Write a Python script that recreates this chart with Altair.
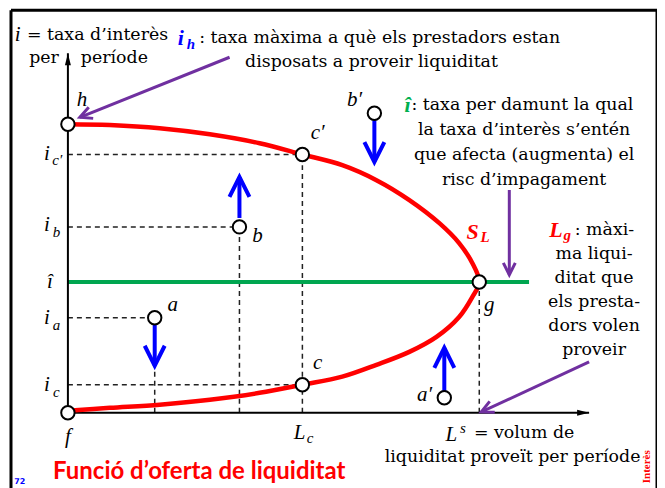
import math
import altair as alt
import pandas as pd

# ---------------- data (L = liquidity per period, i = interest rate) ----------------
# supply curve S_L, read from h round the nose g back to f
curve_L = [0.00, 1.02, 2.23, 3.45, 4.66, 5.70, 6.67, 7.50, 8.30, 9.03, 9.51, 9.83, 10.00,
           9.83, 9.51, 8.96, 8.30, 7.50, 6.67, 5.70, 4.66, 3.45, 2.23, 1.02, 0.00]
curve_i = [10.00, 9.97, 9.86, 9.65, 9.34, 8.95, 8.58, 8.06, 7.37, 6.57, 5.88, 5.19, 4.53,
           4.01, 3.32, 2.63, 2.11, 1.66, 1.25, 0.97, 0.69, 0.45, 0.28, 0.17, 0.07]

point_names = ["h", "c′", "b", "a", "c", "f", "g", "a′", "b′"]
point_L = [0.00, 5.70, 4.17, 2.11, 5.70, 0.00, 10.00, 9.15, 7.45]
point_i = [10.00, 8.95, 6.44, 3.29, 0.97, 0.00, 4.53, 0.52, 10.38]

i_hat = 4.53
i_hat_L = [0.00, 11.21]

# dashed guides
guide_L = [0, 0, 0, 0, 2.11, 4.17, 5.70, 10.00]
guide_L2 = [5.70, 4.17, 2.11, 5.70, 2.11, 4.17, 5.70, 10.00]
guide_i = [8.95, 6.44, 3.29, 0.97, 0, 0, 0, 0]
guide_i2 = [8.95, 6.44, 3.29, 0.97, 1.63, 6.44, 8.95, 4.53]

# blue adjustment arrows
arrow_L = [7.45, 4.17, 2.11, 9.15]
arrow_from = [10.14, 6.75, 3.04, 0.73]
arrow_to = [8.69, 8.17, 1.63, 2.25]

# purple pointer arrows
ptr_L = [3.93, 10.73, 12.67]
ptr_i = [12.32, 7.72, 1.76]
ptr_L2 = [0.29, 10.73, 10.05]
ptr_i2 = [10.24, 4.78, 0.03]

# axes extent
axis_L_max = 12.67
axis_i_max = 12.46

# ---------------- layout ----------------
W, H = 647, 470
PX_L, PX_I = 41.2, 28.9          # pixels per unit
X0, Y0 = 57, 403                 # pixel position of origin inside the plot
xs = alt.Scale(domain=[-X0 / PX_L, (W - X0) / PX_L], nice=False, zero=False)
ys = alt.Scale(domain=[(Y0 - H) / PX_I, Y0 / PX_I], nice=False, zero=False)
X = alt.X("L:Q", scale=xs, axis=None)
Y = alt.Y("i:Q", scale=ys, axis=None)

SERIF = "Liberation Serif"
ROMAN = "DejaVu Serif"
RED, BLUE, GREEN, PURPLE = "#ff0000", "#0000ff", "#00a650", "#7030a0"
CHEVRON = "M -1 2 L 0 0 L 1 2"
TRI = "M 0 0 L -0.5 2 L 0.5 2 Z"

layers = []

# frame
dummy = pd.DataFrame({"d": [0]})
for enc in [dict(x=alt.value(0), y=alt.value(0), y2=alt.value(480)),
            dict(x=alt.value(W), y=alt.value(0), y2=alt.value(480)),
            dict(x=alt.value(0), x2=alt.value(W), y=alt.value(0))]:
    layers.append(alt.Chart(dummy).mark_rule(color="black", strokeWidth=3).encode(**enc))

# dashed guides
gdf = pd.DataFrame({"L": guide_L, "L2": guide_L2, "i": guide_i, "i2": guide_i2})
layers.append(alt.Chart(gdf).mark_rule(color="#222", strokeWidth=1.5, strokeDash=[5, 4]).encode(
    x=X, x2="L2:Q", y=Y, y2="i2:Q"))

# green i-hat line
hdf = pd.DataFrame({"L": [i_hat_L[0]], "L2": [i_hat_L[1]], "i": [i_hat]})
layers.append(alt.Chart(hdf).mark_rule(color=GREEN, strokeWidth=4).encode(x=X, x2="L2:Q", y=Y))

# axes
adf = pd.DataFrame({"L": [0, 0], "L2": [axis_L_max, 0], "i": [0, 0], "i2": [0, axis_i_max]})
layers.append(alt.Chart(adf).mark_rule(color="black", strokeWidth=2).encode(x=X, x2="L2:Q", y=Y, y2="i2:Q"))
tdf = pd.DataFrame({"L": [axis_L_max, 0], "i": [0, axis_i_max], "ang": [90, 0]})
layers.append(alt.Chart(tdf).mark_point(shape=TRI, filled=True, color="black", size=144, opacity=1).encode(
    x=X, y=Y, angle=alt.Angle("ang:Q", scale=None)))

# supply curve
cdf = pd.DataFrame({"L": curve_L, "i": curve_i, "o": list(range(len(curve_L)))})
layers.append(alt.Chart(cdf).mark_line(color=RED, strokeWidth=4.5, interpolate="catmull-rom").encode(
    x=X, y=Y, order="o:Q"))

# blue arrows
bdf = pd.DataFrame({"L": arrow_L, "i": arrow_from, "i2": arrow_to,
                    "ang": [0 if t > f else 180 for f, t in zip(arrow_from, arrow_to)]})
layers.append(alt.Chart(bdf).mark_rule(color=BLUE, strokeWidth=4).encode(x=X, y=Y, y2="i2:Q"))
bhead = bdf.assign(i=bdf["i2"])
layers.append(alt.Chart(bhead).mark_point(shape=CHEVRON, filled=False, color=BLUE, strokeWidth=4,
                                          size=400, opacity=1).encode(
    x=X, y=Y, angle=alt.Angle("ang:Q", scale=None)))

# purple pointers
pang = []
for a, b, c, d in zip(ptr_L, ptr_i, ptr_L2, ptr_i2):
    dx, dy = (c - a) * PX_L, -(d - b) * PX_I
    pang.append(math.degrees(math.atan2(dx, -dy)) % 360)
pdf = pd.DataFrame({"L": ptr_L, "i": ptr_i, "L2": ptr_L2, "i2": ptr_i2, "ang": pang})
layers.append(alt.Chart(pdf).mark_rule(color=PURPLE, strokeWidth=3).encode(x=X, y=Y, x2="L2:Q", y2="i2:Q"))
phead = pd.DataFrame({"L": ptr_L2, "i": ptr_i2, "ang": pang})
layers.append(alt.Chart(phead).mark_point(shape=CHEVRON, filled=False, color=PURPLE, strokeWidth=3,
                                          size=144, opacity=1).encode(
    x=X, y=Y, angle=alt.Angle("ang:Q", scale=None)))

# points
pts = pd.DataFrame({"L": point_L, "i": point_i, "name": point_names})
layers.append(alt.Chart(pts).mark_point(shape="circle", filled=True, fill="white", stroke="black",
                                        strokeWidth=2, size=180, opacity=1).encode(x=X, y=Y))

# ---------------- text ----------------
STYLES = {
    "rm": dict(font=ROMAN, fontSize=17.4, color="black"),
    "it": dict(font=SERIF, fontSize=21, fontStyle="italic", color="black"),
    "sub": dict(font=SERIF, fontSize=15, fontStyle="italic", color="black"),
    "sup": dict(font=SERIF, fontSize=15, fontStyle="italic", color="black"),
    "blue_b": dict(font=SERIF, fontSize=22, fontStyle="italic", fontWeight="bold", color=BLUE),
    "blue_bs": dict(font=SERIF, fontSize=15, fontStyle="italic", fontWeight="bold", color=BLUE),
    "green_b": dict(font=SERIF, fontSize=22, fontStyle="italic", fontWeight="bold", color="#00b050"),
    "red_b": dict(font=SERIF, fontSize=22, fontStyle="italic", fontWeight="bold", color=RED),
    "red_bs": dict(font=SERIF, fontSize=15, fontStyle="italic", fontWeight="bold", color=RED),
    "title": dict(font="Lato", fontSize=24, fontWeight="bold", color=RED),
    "page": dict(font="DejaVu Sans", fontSize=8, fontWeight="bold", color=BLUE),
    "side": dict(font=SERIF, fontSize=11, fontWeight="bold", color=RED, angle=270),
}

rows = [
    ("i", -1.29, 13.08, "it", "left"),
    ("= taxa d’interès", -0.995, 13.08, "rm", "left"),
    ("per", -0.58, 12.28, "rm", "center"),
    ("període", 1.13, 12.28, "rm", "center"),
    ("i", 2.67, 12.98, "blue_b", "left"),
    ("h", 2.89, 12.78, "blue_bs", "left"),
    (": taxa màxima a què els prestadors estan", 3.19, 12.98, "rm", "left"),
    ("disposats a proveir liquiditat", 7.38, 12.15, "rm", "center"),
    ("î", 8.18, 10.66, "green_b", "left"),
    (": taxa per damunt la qual", 8.35, 10.66, "rm", "left"),
    ("la taxa d’interès s’entén", 11.09, 9.79, "rm", "center"),
    ("que afecta (augmenta) el", 11.09, 8.93, "rm", "center"),
    ("risc d’impagament", 11.09, 8.06, "rm", "center"),
    ("S", 9.69, 6.26, "red_b", "left"),
    ("L", 10.03, 6.09, "red_bs", "left"),
    ("L", 11.70, 6.33, "red_b", "left"),
    ("g", 12.05, 6.16, "red_bs", "left"),
    (": màxi-", 12.32, 6.33, "rm", "left"),
    ("ma liqui-", 12.79, 5.50, "rm", "center"),
    ("ditat que", 12.79, 4.67, "rm", "center"),
    ("els presta-", 12.79, 3.84, "rm", "center"),
    ("dors volen", 12.79, 3.01, "rm", "center"),
    ("proveir", 12.79, 2.18, "rm", "center"),
    ("L", 9.32, -0.76, "it", "center"),
    ("s", 9.60, -0.52, "sup", "center"),
    ("= volum de", 11.09, -0.69, "rm", "center"),
    ("liquiditat proveït per període", 10.81, -1.52, "rm", "center"),
    ("Funció d’oferta de liquiditat", -0.36, -2.04, "title", "left"),
    ("72", -1.17, -2.39, "page", "center"),
    ("Interès", 14.08, -1.87, "side", "center"),
    # point labels
    ("h", 0.34, 10.83, "it", "center"),
    ("c′", 6.07, 9.69, "it", "center"),
    ("b", 4.61, 6.12, "it", "center"),
    ("a", 2.55, 3.74, "it", "center"),
    ("c", 6.07, 1.73, "it", "center"),
    ("g", 10.24, 3.74, "it", "center"),
    ("a′", 8.67, 0.62, "it", "center"),
    ("b′", 6.97, 10.83, "it", "center"),
    ("f", 0.00, -0.83, "it", "center"),
    ("L", 5.63, -0.69, "it", "center"),
    ("c", 5.89, -0.87, "sub", "center"),
    # rate labels on the vertical axis
    ("i", -0.51, 8.96, "it", "center"),
    ("c′", -0.26, 8.75, "sub", "center"),
    ("i", -0.51, 6.51, "it", "center"),
    ("b", -0.28, 6.26, "sub", "center"),
    ("î", -0.44, 4.53, "it", "center"),
    ("i", -0.51, 3.29, "it", "center"),
    ("a", -0.28, 3.04, "sub", "center"),
    ("i", -0.51, 0.97, "it", "center"),
    ("c", -0.28, 0.73, "sub", "center"),
]
ann = pd.DataFrame(rows, columns=["text", "L", "i", "style", "align"])
for (style, align), g in ann.groupby(["style", "align"], sort=False):
    layers.append(alt.Chart(g[["text", "L", "i"]]).mark_text(
        align=align, baseline="middle", **STYLES[style]).encode(x=X, y=Y, text="text:N"))

chart = alt.layer(*layers).properties(
    width=W, height=H, autosize="none",
    padding={"left": 3, "top": 2, "right": 0, "bottom": 8},
    background="white",
).configure_view(stroke=None)

chart.save("out.html", embed_options={"renderer": "svg", "actions": False})
